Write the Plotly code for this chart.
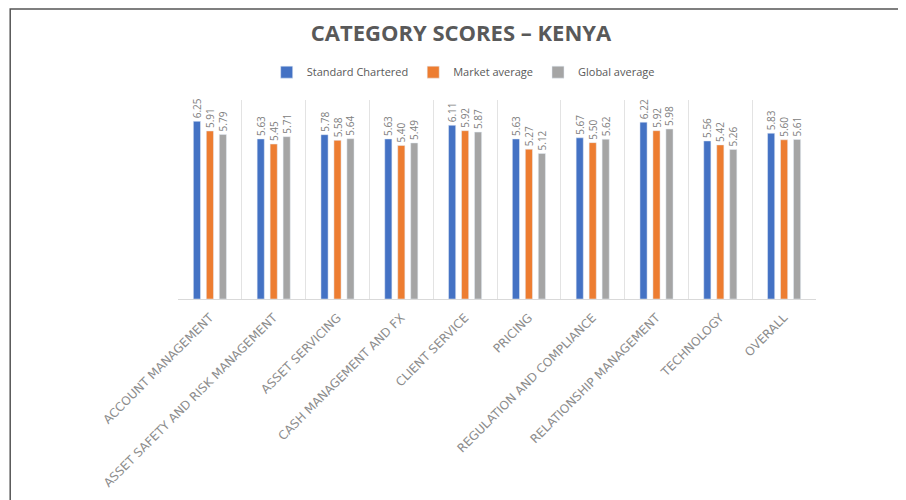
"""Category scores - Kenya, grouped bar chart."""
import plotly.graph_objects as go

categories = [
    "ACCOUNT MANAGEMENT", "ASSET SAFETY AND RISK MANAGEMENT", "ASSET SERVICING",
    "CASH MANAGEMENT AND FX", "CLIENT SERVICE", "PRICING",
    "REGULATION AND COMPLIANCE", "RELATIONSHIP MANAGEMENT", "TECHNOLOGY", "OVERALL",
]
standard_chartered = [6.25, 5.63, 5.78, 5.63, 6.11, 5.63, 5.67, 6.22, 5.56, 5.83]
market_average = [5.91, 5.45, 5.58, 5.40, 5.92, 5.27, 5.50, 5.92, 5.42, 5.60]
global_average = [5.79, 5.71, 5.64, 5.49, 5.87, 5.12, 5.62, 5.98, 5.26, 5.61]

series = [
    ("Standard Chartered", standard_chartered, "#4472C4"),
    ("Market average", market_average, "#ED7D31"),
    ("Global average", global_average, "#A5A5A5"),
]

fig = go.Figure()
for name, vals, color in series:
    fig.add_trace(go.Bar(
        x=categories, y=vals, name=name, marker_color=color,
        text=[f"{v:.2f}" for v in vals], textposition="outside", textangle=-90,
        constraintext="none",
        textfont=dict(size=10, color="#808080", family="Open Sans"),
        cliponaxis=False,
    ))

# page body adds an 8px offset, so margins are shifted by 8px
fig.update_layout(
    width=906, height=500,
    paper_bgcolor="white", plot_bgcolor="white",
    margin=dict(l=170, r=98, t=92, b=209, autoexpand=False),
    barmode="group", bargap=0.39, bargroupgap=0.45,
    title=dict(text="<b>CATEGORY SCORES – KENYA</b>", x=0.5, xanchor="center",
               y=0.95, yanchor="middle",
               font=dict(size=22, color="#595959", family="Open Sans")),
    legend=dict(orientation="h", x=0.447, xanchor="center", y=1.14, yanchor="middle",
                font=dict(size=11, color="#595959", family="Open Sans"),
                itemwidth=30, tracegroupgap=0),
    showlegend=True,
    font=dict(family="Open Sans"),
)
fig.update_xaxes(
    tickangle=-45, tickson="boundaries", showgrid=True, gridcolor="#e3e3e3",
    showline=True, linecolor="#d9d9d9", ticks="", automargin=False,
    ticklabelstandoff=6,
    tickfont=dict(size=12, color="#8c8c8c", family="DejaVu Sans"),
)
fig.update_yaxes(range=[0, 7], visible=False)

# outer frame around the picture (left and top edges only visible)
fig.add_shape(type="path", xref="paper", yref="paper",
              path="M -0.263,-1.2 L -0.263,1.457 L 1.2,1.457",
              line=dict(color="#555555", width=1.5))

fig.write_html("out.html")
